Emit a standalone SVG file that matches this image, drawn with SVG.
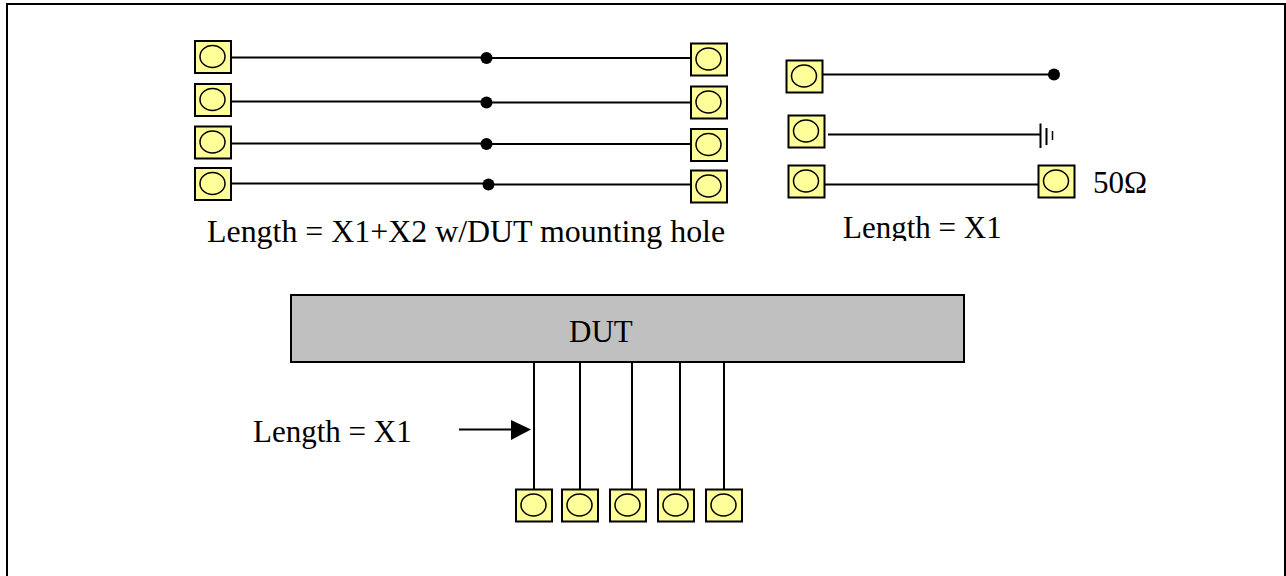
<svg xmlns="http://www.w3.org/2000/svg" width="1286" height="576" viewBox="0 0 1286 576">
<style>
text{font-family:"Liberation Serif","Times New Roman",serif;font-size:31px;fill:#000}
.ln{stroke:#000;stroke-width:2;fill:none}
.pr{fill:#ffff99;stroke:#000;stroke-width:2}
.pe{fill:#ffff99;stroke:#000;stroke-width:1.5}
.dot{fill:#000}
</style>
<defs>
<g id="p"><rect class="pr" x="0.5" y="0.5" width="36" height="32"/><ellipse class="pe" cx="18" cy="16" rx="12.5" ry="11"/></g>
<clipPath id="c"><rect x="830" y="200" width="200" height="41"/></clipPath>
</defs>
<rect width="1286" height="576" fill="#fff"/>
<path d="M7 576V4H1285V576" fill="none" stroke="#000" stroke-width="2"/>
<g id="connectors">
<path class="ln" d="M232 57.5H486M232 101.5H486M232 143.5H486M232 183.5H488M486 58H691M486 102.5H691M486 144H691M488 184.5H691"/>
<path class="ln" d="M823 74.5H1054M828 134.5H1041M825 184.5H1038"/>
<path class="ln" d="M1040.5 123.5V148M1046.5 128V145"/>
<path d="M1052.5 131V140" stroke="#000" stroke-width="1.5"/>
<path class="ln" d="M534 361V489M580 362V489M632 362V489M680 362V489M724 361V489"/>
<path class="ln" d="M459 429.5H512"/>
<path d="M511 420L531 429.5L511 440Z" fill="#000"/>
<circle class="dot" cx="486.5" cy="58" r="6"/>
<circle class="dot" cx="486.5" cy="102.5" r="6"/>
<circle class="dot" cx="486.5" cy="144" r="6"/>
<circle class="dot" cx="488.5" cy="184.5" r="6"/>
<circle class="dot" cx="1054" cy="74.5" r="6"/>
</g>
<g id="pad-l1"><use href="#p" x="194.5" y="40.5"/></g>
<g id="pad-l2"><use href="#p" x="194.5" y="83.5"/></g>
<g id="pad-l3"><use href="#p" x="194.5" y="126"/></g>
<g id="pad-l4"><use href="#p" x="194.5" y="167.5"/></g>
<g id="pad-r1"><use href="#p" x="690.5" y="43"/></g>
<g id="pad-r2"><use href="#p" x="690.5" y="86"/></g>
<g id="pad-r3"><use href="#p" x="690.5" y="128.5"/></g>
<g id="pad-r4"><use href="#p" x="690.5" y="170"/></g>
<g id="pad-a"><use href="#p" x="786" y="60"/></g>
<g id="pad-b"><use href="#p" x="788" y="115"/></g>
<g id="pad-c"><use href="#p" x="788" y="165"/></g>
<g id="pad-d"><use href="#p" x="1038" y="165"/></g>
<g id="pad-1"><use href="#p" x="515.5" y="489"/></g>
<g id="pad-2"><use href="#p" x="561.5" y="489"/></g>
<g id="pad-3"><use href="#p" x="609.5" y="489"/></g>
<g id="pad-4"><use href="#p" x="657.5" y="489"/></g>
<g id="pad-5"><use href="#p" x="705.5" y="489"/></g>
<g id="dut"><rect x="291" y="295" width="673" height="67" fill="#c0c0c0" stroke="#000" stroke-width="2"/><text x="569" y="342">DUT</text></g>
<g id="labels">
<text x="207" y="241.5" style="font-size:31.9px">Length = X1+X2 w/DUT mounting hole</text>
<text x="843" y="238" clip-path="url(#c)">Length = X1</text>
<text x="1093" y="193">50Ω</text>
<text x="253" y="441.5">Length = X1</text>
</g>
</svg>
